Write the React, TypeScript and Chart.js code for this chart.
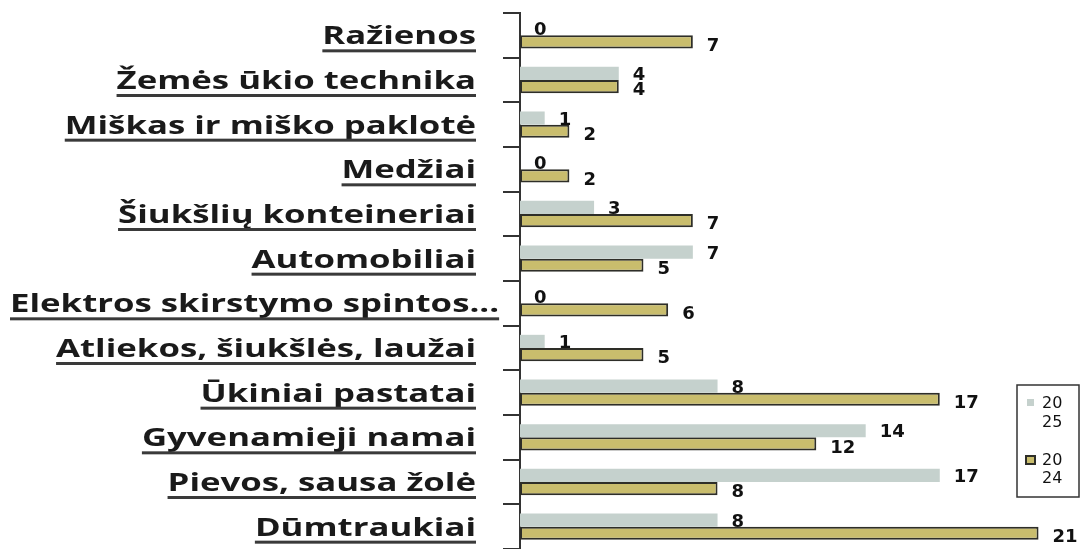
import React, { useEffect, useRef } from "react";
import { Chart, registerables } from "chart.js";

Chart.register(...registerables);

const categories = [
  "Ražienos",
  "Žemės ūkio technika",
  "Miškas ir miško paklotė",
  "Medžiai",
  "Šiukšlių konteineriai",
  "Automobiliai",
  "Elektros skirstymo spintos...",
  "Atliekos, šiukšlės, laužai",
  "Ūkiniai pastatai",
  "Gyvenamieji namai",
  "Pievos, sausa žolė",
  "Dūmtraukiai",
];
const seriesNames = ["2025", "2024"];
const values2025 = [0, 4, 1, 0, 3, 7, 0, 1, 8, 14, 17, 8];
const values2024 = [7, 4, 2, 2, 7, 5, 6, 5, 17, 12, 8, 21];

const GRAY = "#c5d1cd";
const OLIVE = "#c9bd6d";
const DARK = "#2e2e28";

const catLabelFont = "bold 25px 'Open Sans'";
const catStretch = 1.39;
const valueFont = "bold 18px 'DejaVu Sans'";
const legendFont = "16px 'DejaVu Sans'";

const drawPlugin = {
  id: "customDraw",
  afterDatasetsDraw(chart: any) {
    const ctx = chart.ctx;
    ctx.save();
    ctx.font = valueFont;
    ctx.fillStyle = "#111";
    ctx.textAlign = "left";
    ctx.textBaseline = "middle";
    chart.data.datasets.forEach((ds: any, di: number) => {
      const meta = chart.getDatasetMeta(di);
      meta.data.forEach((el: any, i: number) => {
        const v = ds.data[i];
        ctx.fillText(String(v), el.x + 14, el.y + (di === 0 ? 2 : 4));
      });
    });
    ctx.restore();
  },
  afterDraw(chart: any) {
    const ctx = chart.ctx;
    const yScale = chart.scales.y;
    ctx.save();
    // category labels with underline
    ctx.font = catLabelFont;
    ctx.textAlign = "left";
    ctx.textBaseline = "alphabetic";
    chart.data.labels.forEach((lab: string, i: number) => {
      const yc = yScale.getPixelForValue(i);
      const w = ctx.measureText(lab).width * catStretch;
      const right = Math.max(476, 10 + w);
      const left = right - w;
      const base = yc + 9;
      ctx.save();
      ctx.translate(left, base);
      ctx.scale(catStretch, 1);
      ctx.fillStyle = "#1a1a1a";
      ctx.fillText(lab, 0, 0);
      ctx.restore();
      ctx.fillStyle = "#3a3a3a";
      ctx.fillRect(left, base + 5, w, 3);
    });
    // legend
    const bx = 1017, by = 385, bw = 62, bh = 112;
    ctx.fillStyle = "#fff";
    ctx.fillRect(bx, by, bw, bh);
    ctx.strokeStyle = "#333";
    ctx.lineWidth = 1.5;
    ctx.strokeRect(bx, by, bw, bh);
    ctx.font = legendFont;
    ctx.textBaseline = "middle";
    ctx.textAlign = "left";
    // series 2025
    ctx.fillStyle = GRAY;
    ctx.fillRect(1027, 399, 7, 7);
    ctx.fillStyle = "#111";
    ctx.fillText(seriesNames[0].slice(0, 2), 1042, 404);
    ctx.fillText(seriesNames[0].slice(2), 1042, 423);
    // series 2024
    ctx.fillStyle = OLIVE;
    ctx.fillRect(1026, 456, 9, 8);
    ctx.strokeStyle = DARK;
    ctx.lineWidth = 2;
    ctx.strokeRect(1026, 456, 9, 8);
    ctx.fillStyle = "#111";
    ctx.fillText(seriesNames[1].slice(0, 2), 1042, 461);
    ctx.fillText(seriesNames[1].slice(2), 1042, 479);
    ctx.restore();
  },
};

export default function App() {
  const ref = useRef<HTMLCanvasElement>(null);
  useEffect(() => {
    document.body.style.margin = "0";
    const chart = new Chart(ref.current!, {
      type: "bar",
      data: {
        labels: categories,
        datasets: [
          {
            label: seriesNames[0],
            data: values2025,
            backgroundColor: GRAY,
            borderWidth: 0,
            categoryPercentage: 0.59,
            barPercentage: 1,
          },
          {
            label: seriesNames[1],
            data: values2024,
            backgroundColor: OLIVE,
            borderColor: DARK,
            borderWidth: 2,
            borderSkipped: false,
            categoryPercentage: 0.59,
            barPercentage: 1,
          },
        ],
      },
      options: {
        indexAxis: "y",
        animation: false,
        responsive: false,
        maintainAspectRatio: false,
        layout: { padding: { top: 13, bottom: 0, left: 0, right: 0 } },
        plugins: { legend: { display: false }, tooltip: { enabled: false } },
        scales: {
          x: { display: false, min: 0, max: 22.8 },
          y: {
            ticks: { display: false },
            grid: {
              offset: true,
              drawOnChartArea: false,
              color: "#333",
              lineWidth: 2,
              tickLength: 17,
            },
            border: { display: true, color: "#333", width: 2 },
            afterFit: (scale: any) => {
              scale.width = 520;
            },
          },
        },
      },
      plugins: [drawPlugin],
    });
    return () => chart.destroy();
  }, []);
  return (
    <div style={{ width: 1083, height: 549, background: "#fff" }}>
      <canvas ref={ref} width={1083} height={549} style={{ display: "block" }} />
    </div>
  );
}
